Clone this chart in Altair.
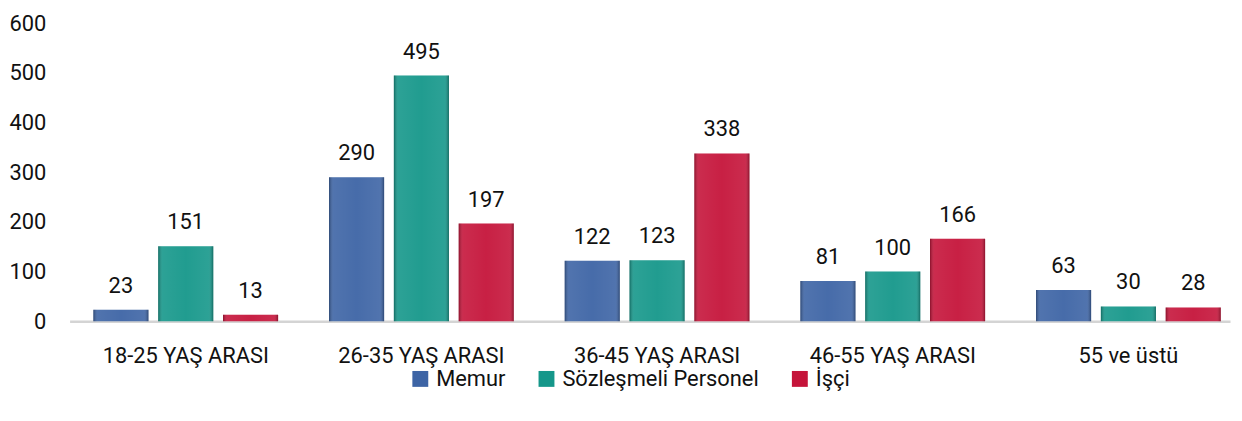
import altair as alt
import pandas as pd

categories = ["18-25 YAŞ ARASI", "26-35 YAŞ ARASI", "36-45 YAŞ ARASI", "46-55 YAŞ ARASI", "55 ve üstü"]
series = ["Memur", "Sözleşmeli Personel", "İşçi"]
memur = [23, 290, 122, 81, 63]
sozlesmeli = [151, 495, 123, 100, 30]
isci = [13, 197, 338, 166, 28]
colors = ["#3D64A5", "#15978A", "#C5143A"]

rows = []
for i, c in enumerate(categories):
    for s, vals in zip(series, [memur, sozlesmeli, isci]):
        rows.append({"cat": c, "series": s, "value": vals[i]})
df = pd.DataFrame(rows)

FONT = "Roboto"
FS = 22

x = alt.X("cat:N", sort=categories, title=None,
          scale=alt.Scale(paddingInner=0.216, paddingOuter=0.07, align=0.72),
          axis=alt.Axis(labelAngle=0, labelFontSize=FS, labelColor="#111111", labelFont=FONT,
                        ticks=False, labelPadding=24, domainColor="#D4D4D4", domainWidth=2.5))
xo = alt.XOffset("series:N", sort=series, scale=alt.Scale(paddingInner=0.15, paddingOuter=0))
y = alt.Y("value:Q", title=None,
          scale=alt.Scale(domain=[0, 600]),
          axis=alt.Axis(values=[0, 100, 200, 300, 400, 500, 600], grid=False, domain=False, ticks=False,
                        labelFontSize=FS, labelColor="#111111", labelFont=FONT, labelPadding=24))

base = alt.Chart(df)

bars = base.mark_bar().encode(
    x=x, xOffset=xo, y=y,
    color=alt.Color("series:N", sort=series,
                    scale=alt.Scale(domain=series, range=colors),
                    legend=alt.Legend(title=None, orient="none", legendX=342, legendY=347,
                                      direction="horizontal", symbolType="square", symbolSize=256,
                                      symbolStrokeWidth=0, labelFontSize=FS, labelFont=FONT,
                                      labelColor="#111111", labelOffset=5, columnPadding=30,
                                      labelLimit=400))
)

shade = base.mark_bar(
    fill={"gradient": "linear", "x1": 0, "x2": 1, "y1": 0, "y2": 0,
          "stops": [{"offset": 0, "color": "rgba(0,0,0,0.30)"},
                    {"offset": 0.08, "color": "rgba(255,255,255,0.10)"},
                    {"offset": 0.5, "color": "rgba(255,255,255,0.05)"},
                    {"offset": 0.92, "color": "rgba(255,255,255,0.10)"},
                    {"offset": 1, "color": "rgba(0,0,0,0.30)"}]}
).encode(x=x, xOffset=xo, y=y)

labels = base.mark_text(baseline="bottom", dy=-12, fontSize=FS, font=FONT, color="#111111").encode(
    x=x, xOffset=xo, y=y, text="value:Q"
)

chart = alt.layer(bars, shade, labels).properties(
    width=1168, height=300,
    autosize=alt.AutoSizeParams(type="none"),
    padding={"left": 62, "top": 14, "right": 4, "bottom": 95},
).configure(font=FONT).configure_view(stroke=None, strokeWidth=0)

chart.save("out.html", embed_options={"renderer": "svg", "actions": False})
